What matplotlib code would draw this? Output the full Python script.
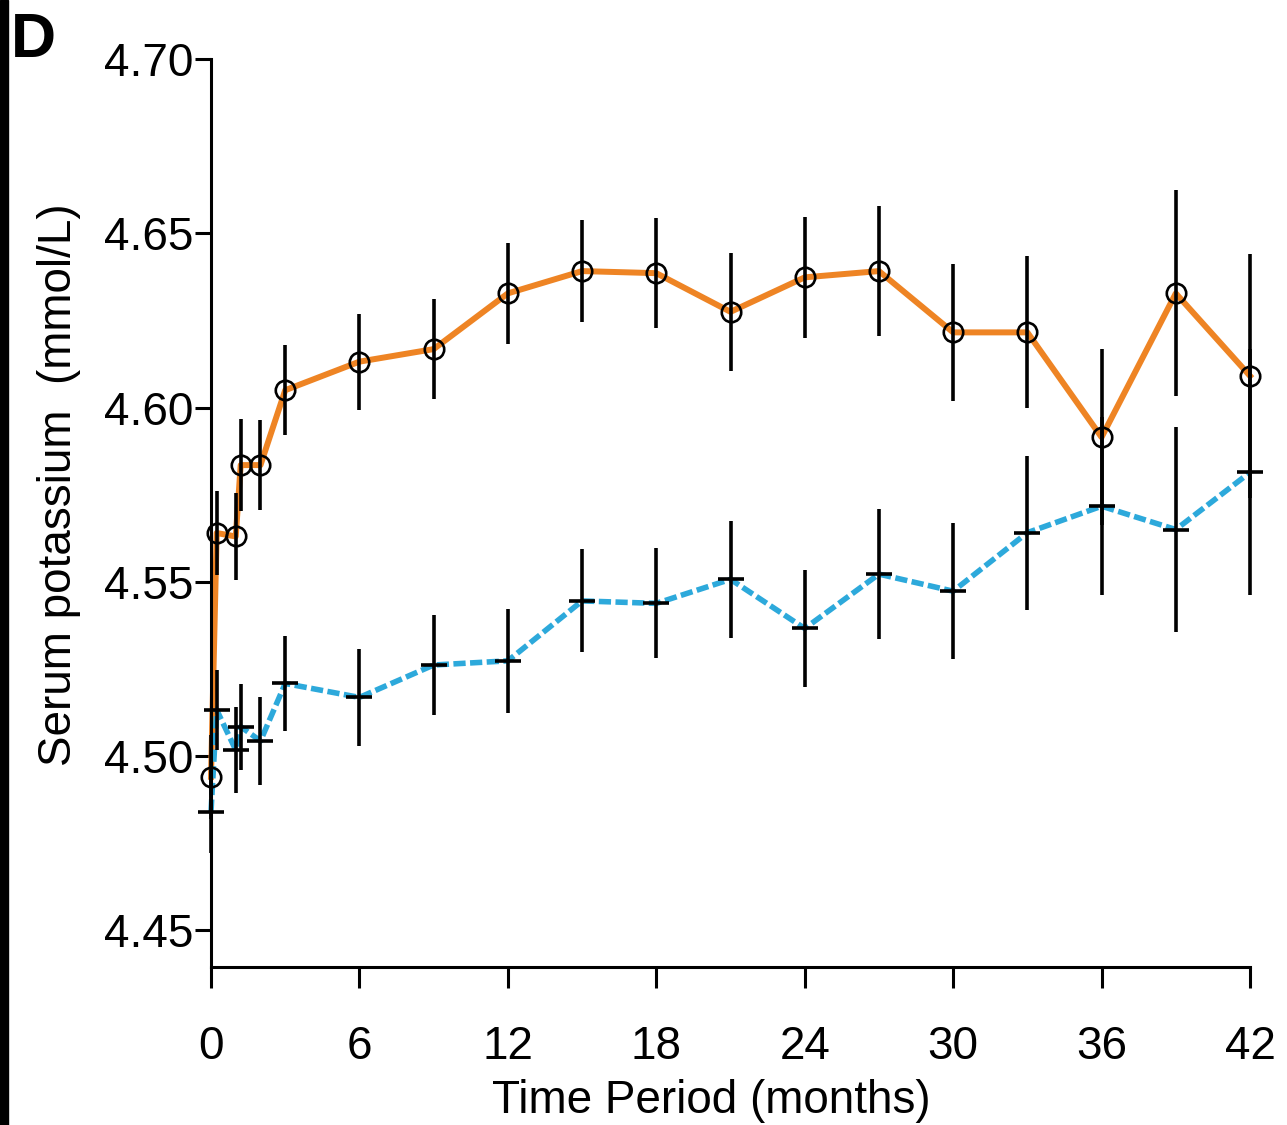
import matplotlib
matplotlib.use("Agg")
import matplotlib.pyplot as plt
from matplotlib.patches import Rectangle

# time points (months) and group means / SE
months = [0, 0.23, 1, 1.2, 2, 3, 6, 9, 12, 15, 18, 21, 24, 27, 30, 33, 36, 39, 42]
xticks = [0, 6, 12, 18, 24, 30, 36, 42]
yticks = [4.45, 4.50, 4.55, 4.60, 4.65, 4.70]

orange_mean = [4.494, 4.564, 4.563, 4.5835, 4.5835, 4.605, 4.6132, 4.6168, 4.6328, 4.6392,
               4.6386, 4.6275, 4.6374, 4.6392, 4.6216, 4.6216, 4.5915, 4.6328, 4.6091]
orange_err = [0.012, 0.0121, 0.0126, 0.0132, 0.0129, 0.0129, 0.0138, 0.0144, 0.0146, 0.0146,
              0.0158, 0.0169, 0.0174, 0.0187, 0.0197, 0.0218, 0.0253, 0.0296, 0.0350]

blue_mean = [4.484, 4.5132, 4.5017, 4.5084, 4.5043, 4.5208, 4.5168, 4.5261, 4.5273, 4.5445,
             4.5438, 4.5507, 4.5366, 4.5522, 4.5473, 4.5641, 4.5717, 4.5650, 4.5814]
blue_err = [0.012, 0.0115, 0.0123, 0.0123, 0.0126, 0.0135, 0.0140, 0.0144, 0.0149, 0.0148,
            0.0158, 0.0167, 0.0169, 0.0187, 0.0195, 0.0221, 0.0256, 0.0293, 0.0353]

plt.rcParams['font.family'] = ['Liberation Sans', 'DejaVu Sans']

fig = plt.figure(figsize=(12.87, 11.25), dpi=100)
ax = fig.add_axes([0.16395, 0.14044, 0.8073, 0.80684])

ax.plot(months, orange_mean, color='#EE8424', lw=4.3, zorder=2, clip_on=False)
ax.plot(months, blue_mean, color='#2DA9DB', lw=4.0, dashes=(2.2, 0.8), zorder=2, clip_on=False)

ax.errorbar(months, orange_mean, yerr=orange_err, fmt='o', ms=14, mfc='none', mec='black',
            mew=1.9, ecolor='black', elinewidth=2.6, capsize=0, zorder=3, clip_on=False)
ax.errorbar(months, blue_mean, yerr=blue_err, fmt='_', ms=19, mec='black',
            mew=2.6, ecolor='black', elinewidth=2.6, capsize=0, zorder=3, clip_on=False)

ax.set_xlim(0, 42)
ax.set_ylim(4.4394, 4.70)
ax.set_xticks(xticks)
ax.set_yticks(yticks)
ax.set_yticklabels(["%.2f" % v for v in yticks])

for side in ['top', 'right']:
    ax.spines[side].set_visible(False)
for side in ['left', 'bottom']:
    ax.spines[side].set_linewidth(2.2)

ax.tick_params(axis='x', length=15, width=2.2, pad=27, labelsize=33)
ax.tick_params(axis='y', length=11.5, width=2.2, pad=1.5, labelsize=33)

ax.set_xlabel('Time Period (months)', fontsize=33, labelpad=7, x=0.482)
ax.set_ylabel('Serum potassium  (mmol/L)', fontsize=33, labelpad=16.5, y=0.531)

# panel letter and dark strip at the left edge
fig.text(11 / 1287, 1 - 57 / 1125, 'D', fontsize=45, fontweight='bold', va='baseline', ha='left')
fig.patches.append(Rectangle((0, 0), 8 / 1287, 1, transform=fig.transFigure, color='black'))

fig.savefig('out.png', dpi=100)
